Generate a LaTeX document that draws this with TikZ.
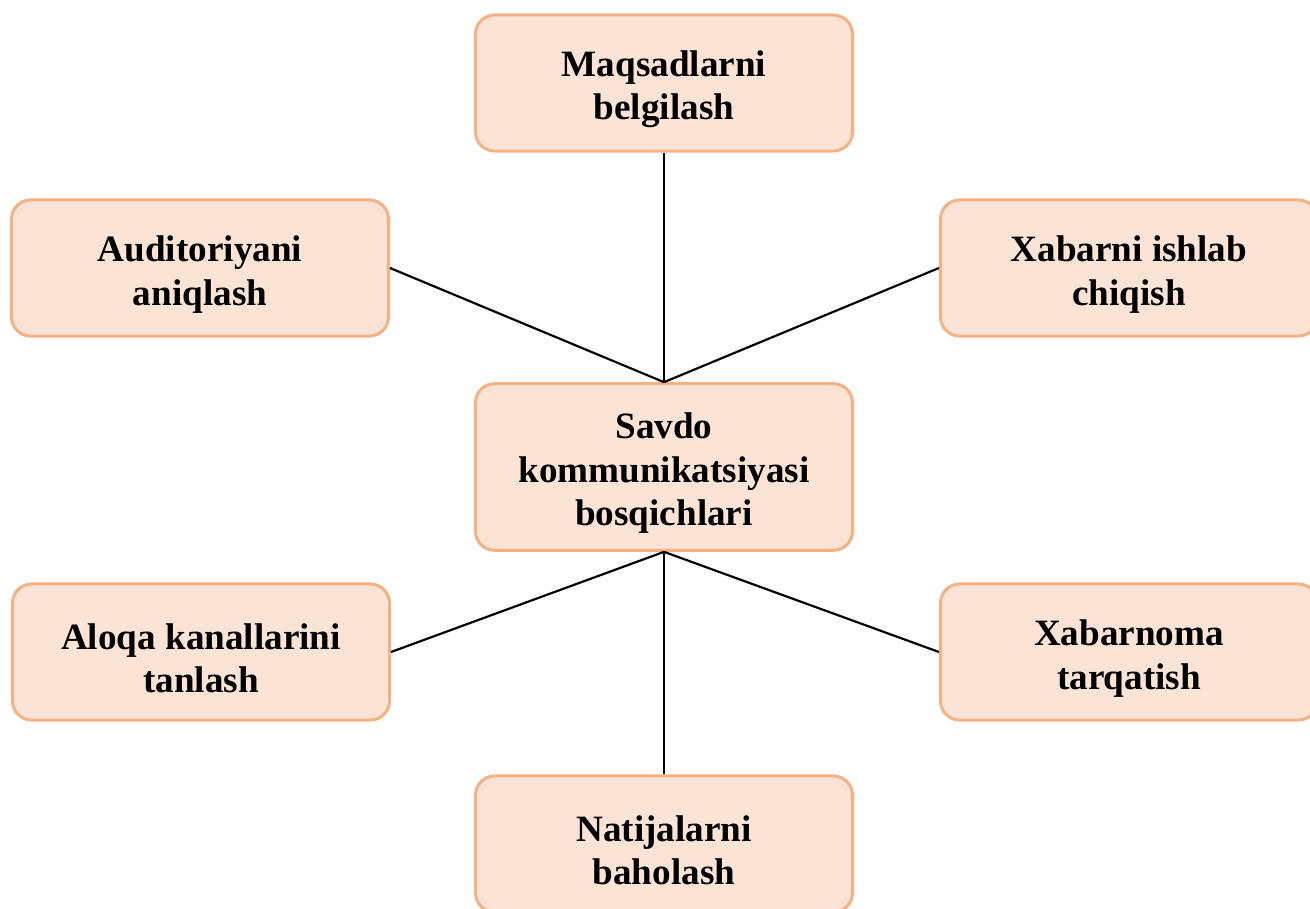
\documentclass[tikz,border=0pt]{standalone}
\usepackage{fontspec}
\setmainfont{Liberation Serif}
\usetikzlibrary{
    positioning,
    calc
}
\definecolor{stepfill}{HTML}{FBE4D5}
\definecolor{stepborder}{HTML}{F4B183}
\newcommand{\lift}{\rule{0pt}{14pt}}

\begin{document}
\begin{tikzpicture}[
        x=0.366pt, y=-0.366pt,
        stage/.style={draw=stepborder, line width=1.1pt, fill=stepfill, rounded corners=7pt,
            minimum width=138pt, minimum height=49.8pt, align=center,
            font=\fontsize{13.6}{16}\selectfont\bfseries},
        link/.style={draw=black, line width=0.8pt}
    ]
        % Page frame
        \useasboundingbox (0,0) rectangle (1310,909);

        % Centre
        \node[stage, minimum height=61pt] (hub) at (664,467) {\lift Savdo\\kommunikatsiyasi\\bosqichlari};

        % Stages around the centre
        \node[stage] (goals) at (664,83) {\lift Maqsadlarni\\belgilash};
        \node[stage] (audience) at (200,268) {\lift Auditoriyani\\aniqlash};
        \node[stage] (message) at (1129,268) {\lift Xabarni ishlab\\chiqish};
        \node[stage] (channels) at (201,652) {\lift Aloqa kanallarini\\tanlash};
        \node[stage] (spread) at (1129,652) {\lift Xabarnoma\\tarqatish};
        \node[stage] (results) at (664,844) {\lift Natijalarni\\baholash};

        % Connectors
        \draw[link] (hub.north) -- (goals.south);
        \draw[link] (hub.north) -- (audience.east);
        \draw[link] (hub.north) -- (message.west);
        \draw[link] (hub.south) -- (channels.east);
        \draw[link] (hub.south) -- (spread.west);
        \draw[link] (hub.south) -- (results.north);

    \end{tikzpicture}
\end{document}
